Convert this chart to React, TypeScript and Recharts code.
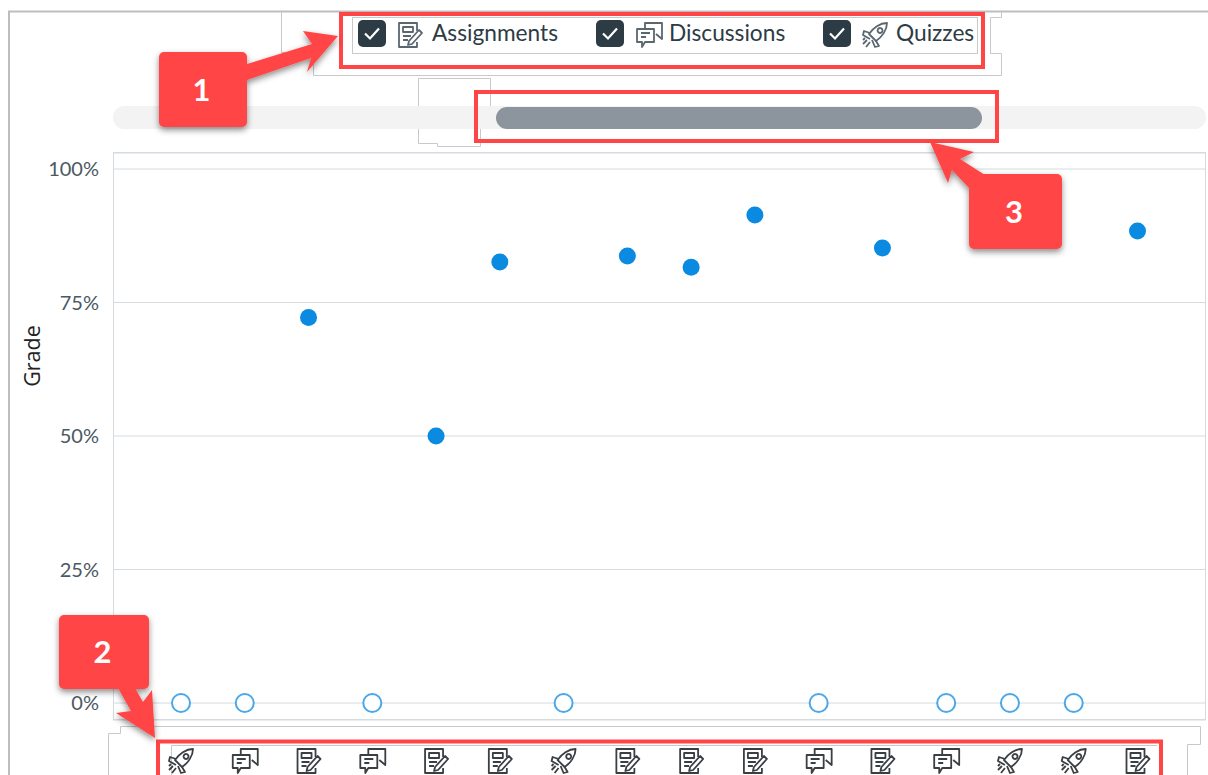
import { CartesianGrid, Line, LineChart, XAxis, YAxis } from 'recharts'

const itemTypes = ['quiz', 'discussion', 'assignment', 'discussion', 'assignment', 'assignment', 'quiz', 'assignment', 'assignment', 'assignment', 'discussion', 'assignment', 'discussion', 'quiz', 'quiz', 'assignment']
const gradedValues = [null, null, 72.2, null, 50, 82.6, null, 83.7, 81.6, 91.4, null, 85.2, null, null, null, 88.4]
const zeroValues = [0, 0, null, 0, null, null, 0, null, null, null, 0, null, 0, 0, 0, null]
const gradeTicks = [0, 25, 50, 75, 100]
const legendNames = ['Assignments', 'Discussions', 'Quizzes']
const legendTypes = ['assignment', 'discussion', 'quiz']

const data = itemTypes.map((type, i) => ({
  item: `${type}-${i}`,
  graded: gradedValues[i],
  zero: zeroValues[i],
}))

const INK = '#2d3b45'
const RED = '#ff4545'
const OUTLINE = '#c9c9c9'
const FRAME = '#d5dbe0'

function Icon({ type, x, y, color = '#3a3f44' }: { type: string; x: number; y: number; color?: string }) {
  const common = { fill: 'none', stroke: color, strokeWidth: 1.8, strokeLinejoin: 'round' as const }
  if (type === 'assignment') {
    return (
      <g transform={`translate(${x},${y})`} {...common}>
        <path d="M20 9V1H2V25H20V20" />
        <path d="M6 5H16V10H6Z" />
        <path d="M6 14H14M6 18H11" />
        <path d="M12 19L22 8L25 11L15 22L11 23Z" />
      </g>
    )
  }
  if (type === 'discussion') {
    return (
      <g transform={`translate(${x},${y})`} {...common}>
        <path d="M9 7V1H26V17L20 12" />
        <path d="M1 7H18V20H9L6 25V20H1Z" />
        <path d="M5 11H14M5 15H10" />
      </g>
    )
  }
  return (
    <g transform={`translate(${x},${y})`} {...common}>
      <path d="M7 12C11 6 18 1 25 1C25 8 20 15 14 19Z" />
      <path d="M8 11L2 9L1 13L8 17" />
      <path d="M14 19L17 24L13 25L10 18" />
      <path d="M18 6A2.5 2.5 0 1 0 18.1 6" />
      <path d="M5 18L1 22M8 20L4 25M3 16L1 18" />
    </g>
  )
}

function ItemTick({ x, y, index }: any) {
  return <Icon type={itemTypes[index]} x={x - 13} y={y + 28} />
}

function Underlay() {
  const legendX = [
    { box: 358, icon: 397, text: 432 },
    { box: 596, icon: 636, text: 669 },
    { box: 823, icon: 862, text: 896 },
  ]
  return (
    <svg width={1208} height={775} style={{ position: 'absolute', left: 0, top: 0 }}>
      <path d="M9 775V11.5H1208" fill="none" stroke="#bdbdbd" strokeWidth={2} />
      <g fill="none" stroke={OUTLINE} strokeWidth={1}>
        <path d="M281.5 12V52.5H313.5V75.5H1001.5V53.5H990.5V17.5H1001.5V12" />
        <path d="M490.5 112V78.5H418.5V143.5H437.5V146.5H480.5V114" />
        <path d="M108.5 775V733.5H120.5V726.5H1200.5V744.5H1187.5V775" />
        <path d="M171.5 775V745.5H1157" />
        <rect x={352.5} y={17.5} width={625} height={36} />
      </g>
      <rect x={113} y={106} width={1093} height={23} rx={11.5} fill="#f3f3f3" />
      <rect x={496} y={107} width={486} height={22} rx={11} fill="#8c959d" />
      <rect x={113.5} y={152.5} width={1092} height={567} fill="none" stroke={FRAME} />
      {legendNames.map((name, i) => (
        <g key={name}>
          <rect x={legendX[i].box} y={20} width={28} height={27} rx={5} fill={INK} />
          <path
            d={`M${legendX[i].box + 7} 33.5l5 5l9-10`}
            fill="none"
            stroke="#fff"
            strokeWidth={2.2}
          />
          <Icon type={legendTypes[i]} x={legendX[i].icon} y={22} color="#5a6670" />
          <text x={legendX[i].text} y={41} fontSize={22.7} fill={INK}>
            {name}
          </text>
        </g>
      ))}
      <text
        transform="translate(40,356) rotate(-90)"
        textAnchor="middle"
        fontSize={21.5}
        fontFamily="'Open Sans', sans-serif"
        fill="#222"
      >
        Grade
      </text>
    </svg>
  )
}

function Overlay() {
  const callouts = [
    { label: '1', x: 159, y: 52, w: 88, h: 75, arrow: '247,64 312,44 303,31 338,36 307,72 311,58 247,80' },
    { label: '2', x: 59, y: 615, w: 90, h: 74, arrow: '118,688 135,688 143,702 152,690 155,738 116,713 131,711' },
    { label: '3', x: 969, y: 174, w: 93, h: 75, arrow: '930,142 974,152 960,159 985,175 969,188 952,170 948,183' },
  ]
  return (
    <svg width={1208} height={775} style={{ position: 'absolute', left: 0, top: 0, pointerEvents: 'none' }}>
      <defs>
        <filter id="calloutShadow" x="-20%" y="-20%" width="140%" height="140%">
          <feDropShadow dx={0} dy={3} stdDeviation={3} floodColor="#000" floodOpacity={0.45} />
        </filter>
      </defs>
      <g fill="none" stroke={RED} strokeWidth={4}>
        <rect x={341} y={14} width={642} height={53} />
        <rect x={476} y={92} width={521} height={49} />
        <path d="M158 775V741.5H1161V775" />
      </g>
      {callouts.map((c) => (
        <g key={c.label}>
          <g filter="url(#calloutShadow)" fill={RED}>
            <polygon points={c.arrow} />
            <rect x={c.x} y={c.y} width={c.w} height={c.h} rx={5} />
          </g>
          <text
            x={c.x + c.w / 2 - 1.5}
            y={c.y + c.h / 2 + 11}
            textAnchor="middle"
            fontSize={31}
            fontWeight={700}
            fill="#fff"
          >
            {c.label}
          </text>
        </g>
      ))}
    </svg>
  )
}

export default function App() {
  return (
    <div
      style={{
        position: 'absolute',
        left: 0,
        top: 0,
        width: 1208,
        height: 775,
        overflow: 'hidden',
        background: '#fff',
        fontFamily: 'Lato, sans-serif',
      }}
    >
      <Underlay />
      <div style={{ position: 'absolute', left: 0, top: 0 }}>
        <LineChart width={1208} height={775} data={data} margin={{ top: 153, right: 2, bottom: 0, left: 0 }}>
          <CartesianGrid vertical={false} stroke={FRAME} />
          <XAxis
            dataKey="item"
            height={55}
            interval={0}
            padding={{ left: 68, right: 68.5 }}
            axisLine={false}
            tickLine={false}
            tickSize={0}
            tickMargin={0}
            tick={ItemTick}
          />
          <YAxis
            width={113}
            domain={[-3.18, 103]}
            ticks={gradeTicks}
            interval={0}
            allowDataOverflow
            axisLine={false}
            tickLine={false}
            tickSize={0}
            tickMargin={14}
            tickFormatter={(v) => `${v}%`}
            tick={{ fill: '#4b5963', fontSize: 20 }}
          />
          <Line
            dataKey="graded"
            stroke="none"
            isAnimationActive={false}
            activeDot={false}
            dot={{ r: 8.5, fill: '#0a8ae0', stroke: 'none' }}
          />
          <Line
            dataKey="zero"
            stroke="none"
            isAnimationActive={false}
            activeDot={false}
            dot={{ r: 9, fill: '#fff', stroke: '#4aa8ea', strokeWidth: 2 }}
          />
        </LineChart>
      </div>
      <Overlay />
    </div>
  )
}
